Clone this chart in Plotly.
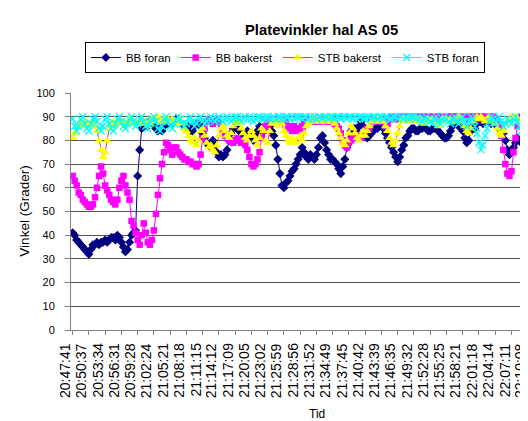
import plotly.graph_objects as go

# ---- data ----
tick_labels = ["20:47:41", "20:50:37", "20:53:34", "20:56:31", "20:59:28", "21:02:24",
               "21:05:21", "21:08:18", "21:11:15", "21:14:12", "21:17:09", "21:20:05",
               "21:23:02", "21:25:59", "21:28:56", "21:31:52", "21:34:49", "21:37:45",
               "21:40:42", "21:43:39", "21:46:35", "21:49:32", "21:52:28", "21:55:25",
               "21:58:21", "22:01:18", "22:04:14", "22:07:11", "22:10:08"]
samples_per_label = 8

bb_foran = [
    41, 40, 38, 37, 36, 35, 34, 33,
    32, 34, 36, 36, 37, 36, 37, 37,
    38, 37, 38, 39, 39, 38, 40, 39,
    37, 35, 33, 34, 37, 40, 41, 42,
    65, 76, 85, 86, 87, 86, 88, 87,
    86, 85, 84, 85, 84, 86, 88, 87,
    88, 87, 88, 89, 89, 88, 87, 86,
    85, 86, 84, 84, 86, 87, 87, 86,
    83, 81, 79, 78, 77, 80, 78, 75,
    73, 74, 73, 74, 76, 80, 83, 85,
    86, 85, 84, 82, 80, 82, 84, 83,
    81, 80, 82, 84, 86, 85, 84, 86,
    85, 86, 84, 82, 78, 72, 66, 61,
    60, 62, 63, 65, 67, 68, 70, 72,
    74, 77, 75, 73, 72, 74, 73, 72,
    74, 77, 81, 82, 79, 76, 74, 72,
    72, 71, 70, 68, 66, 69, 72, 77,
    80, 84, 85, 85, 84, 86, 88, 86,
    83, 81, 82, 83, 84, 85, 85, 86,
    86, 85, 83, 81, 79, 77, 75, 73,
    71, 73, 76, 78, 81, 82, 84, 85,
    85, 84, 84, 85, 85, 86, 85, 84,
    84, 85, 85, 85, 84, 83, 82, 81,
    81, 82, 84, 86, 87, 87, 86, 86,
    84, 81, 79, 80, 84, 86, 85, 87,
    88, 88, 87, 88, 89, 88, 87, 88,
    87, 86, 85, 84, 83, 80, 76, 74,
    75, 77, 79, 81, 80, 79, 78, 77,
    75, 76, 78, 81]

bb_bakerst = [
    65, 63, 61, 58, 57, 55, 54, 53,
    52, 52, 53, 56, 60, 65, 69, 66,
    61, 59, 57, 55, 54, 53, 55, 60,
    63, 65, 61, 58, 55, 46, 44, 41,
    38, 36, 40, 45, 41, 37, 36, 38,
    42, 49, 57, 64, 70, 75, 79, 78,
    76, 74, 77, 77, 75, 74, 73, 72,
    72, 71, 71, 70, 70, 69, 70, 74,
    81, 85, 88, 89, 88, 87, 88, 89,
    88, 87, 85, 82, 81, 80, 80, 79,
    80, 81, 80, 79, 80, 78, 76, 73,
    70, 69, 70, 72, 75, 81, 84, 86,
    87, 88, 89, 88, 89, 88, 89, 88,
    89, 88, 86, 85, 84, 86, 85, 84,
    85, 86, 87, 88, 88, 89, 88, 88,
    89, 88, 88, 89, 89, 88, 88, 89,
    88, 87, 86, 85, 83, 80, 78, 77,
    79, 80, 82, 81, 82, 82, 81, 83,
    84, 85, 85, 88, 89, 89, 88, 89,
    88, 89, 86, 87, 89, 90, 89, 89,
    89, 90, 89, 89, 90, 89, 90, 89,
    90, 89, 89, 90, 90, 89, 89, 90,
    89, 90, 89, 89, 90, 90, 89, 89,
    90, 89, 90, 90, 89, 90, 90, 89,
    90, 89, 89, 90, 90, 89, 90, 90,
    89, 90, 90, 89, 90, 89, 90, 90,
    89, 88, 86, 82, 76, 70, 66, 65,
    67, 75, 81, 86, 89, 90, 90, 89,
    90, 90, 89, 90]

stb_bakerst = [
    81, 83, 86, 87, 88, 86, 87, 88,
    87, 86, 88, 86, 84, 80, 76, 73,
    75, 80, 85, 87, 88, 86, 87, 88,
    87, 88, 86, 87, 89, 88, 87, 88,
    87, 88, 89, 87, 88, 86, 87, 89,
    88, 89, 90, 89, 88, 89, 88, 89,
    88, 89, 88, 87, 88, 89, 87, 85,
    84, 82, 80, 79, 81, 78, 80, 84,
    85, 82, 79, 77, 78, 76, 75, 78,
    82, 85, 86, 84, 82, 81, 83, 86,
    87, 88, 87, 85, 83, 81, 80, 82,
    84, 82, 80, 78, 81, 85, 84, 80,
    79, 84, 87, 88, 87, 86, 88, 87,
    84, 82, 80, 79, 81, 80, 79, 81,
    82, 80, 83, 86, 87, 88, 89, 88,
    89, 88, 89, 88, 89, 88, 89, 88,
    88, 87, 85, 83, 81, 79, 78, 80,
    83, 86, 85, 83, 81, 80, 82, 84,
    82, 84, 86, 88, 89, 88, 89, 88,
    89, 88, 86, 84, 81, 79, 78, 80,
    83, 86, 88, 89, 88, 89, 88, 89,
    88, 89, 88, 89, 88, 87, 88, 89,
    88, 89, 88, 87, 86, 88, 89, 88,
    89, 88, 89, 88, 89, 88, 90, 89,
    88, 86, 84, 83, 85, 88, 89, 90,
    89, 90, 89, 88, 89, 90, 89, 88,
    87, 85, 83, 82, 84, 87, 88, 89,
    90, 89, 90, 89, 88, 87, 84, 81,
    78, 74, 70, 69]

stb_foran = [
    89, 86, 84, 86, 89, 90, 87, 85,
    84, 87, 89, 90, 88, 85, 84, 86,
    89, 90, 87, 85, 84, 87, 89, 90,
    88, 86, 85, 87, 89, 90, 88, 86,
    87, 89, 90, 88, 86, 85, 87, 89,
    90, 88, 85, 84, 86, 89, 90, 88,
    86, 85, 87, 89, 90, 89, 87, 86,
    87, 89, 90, 88, 86, 87, 89, 90,
    88, 87, 88, 89, 90, 89, 88, 89,
    90, 89, 88, 89, 90, 89, 88, 89,
    90, 90, 89, 88, 89, 90, 89, 90,
    89, 88, 89, 90, 90, 89, 89, 90,
    90, 89, 89, 90, 89, 90, 90, 89,
    89, 90, 90, 89, 90, 89, 90, 90,
    90, 89, 90, 90, 89, 90, 89, 90,
    89, 90, 90, 89, 90, 90, 89, 90,
    90, 89, 90, 90, 89, 90, 90, 89,
    90, 90, 89, 90, 89, 90, 90, 89,
    89, 90, 90, 89, 90, 90, 89, 90,
    90, 89, 90, 90, 89, 89, 90, 90,
    89, 90, 90, 89, 90, 89, 90, 90,
    90, 89, 90, 89, 88, 89, 90, 89,
    88, 87, 89, 90, 88, 87, 89, 90,
    89, 88, 87, 89, 90, 88, 87, 89,
    90, 88, 86, 88, 90, 89, 86, 83,
    79, 76, 78, 82, 85, 88, 90, 89,
    87, 89, 90, 88, 86, 87, 89, 88,
    87, 89, 90, 88, 86, 84, 81, 78,
    80, 83, 86, 88]

series_names = ["BB foran", "BB bakerst", "STB bakerst", "STB foran"]

# ---- figure ----
x = list(range(len(bb_foran)))
tickvals = [k * samples_per_label for k in range(len(tick_labels))]

FONT = "Liberation Sans, Arial, sans-serif"

fig = go.Figure()
fig.add_trace(go.Scatter(x=x, y=bb_foran, name=series_names[0], mode="lines+markers",
                         line=dict(color="#000080", width=1),
                         marker=dict(symbol="diamond", size=7, color="#000080")))
fig.add_trace(go.Scatter(x=x, y=bb_bakerst, name=series_names[1], mode="lines+markers",
                         line=dict(color="#FF00FF", width=1),
                         marker=dict(symbol="square", size=6.5, color="#FF00FF")))
fig.add_trace(go.Scatter(x=x, y=stb_bakerst, name=series_names[2], mode="lines+markers",
                         line=dict(color="#FF0000", width=0.8),
                         marker=dict(symbol="triangle-up", size=8, color="#FFFF00")))
fig.add_trace(go.Scatter(x=x, y=stb_foran, name=series_names[3], mode="lines+markers",
                         line=dict(color="#00FFFF", width=1),
                         marker=dict(symbol="x-thin", size=7,
                                     line=dict(color="#00FFFF", width=1.3), color="#00FFFF")))

annotations = [
    dict(text="<b>Platevinkler hal AS 05</b>", x=0.539, y=1.266, xref="paper", yref="paper",
         xanchor="center", yanchor="middle", showarrow=False,
         font=dict(family=FONT, size=14.8, color="black")),
    dict(text="Vinkel (Grader)", x=-0.101, y=0.5, xref="paper", yref="paper",
         xanchor="center", yanchor="middle", textangle=-90, showarrow=False,
         font=dict(family=FONT, size=13.5, color="black")),
    dict(text="Tid", x=0.530, y=-0.355, xref="paper", yref="paper",
         xanchor="center", yanchor="middle", showarrow=False,
         font=dict(family=FONT, size=12, color="black")),
]
for tv, lab in zip(tickvals, tick_labels):
    annotations.append(dict(text=lab, x=tv, y=-0.046, xref="x", yref="paper",
                            xanchor="center", yanchor="top", textangle=-90,
                            xshift=-7, showarrow=False,
                            font=dict(family=FONT, size=14, color="black")))

fig.update_layout(
    width=528, height=421,
    margin=dict(l=63, r=1, t=85, b=99),
    paper_bgcolor="white", plot_bgcolor="white",
    font=dict(family=FONT, size=11, color="black"),
    showlegend=True,
    legend=dict(orientation="h", x=0.030, y=1.215, xanchor="left", yanchor="top",
                bordercolor="black", borderwidth=1, bgcolor="white",
                font=dict(family=FONT, size=11.5, color="black"),
                itemwidth=30, tracegroupgap=0),
    xaxis=dict(range=[-0.8, 227.6], tickmode="array", tickvals=tickvals,
               showticklabels=False,
               ticks="outside", ticklen=4, tickcolor="#808080",
               showgrid=False, zeroline=False, showline=True, linecolor="#808080", linewidth=1),
    yaxis=dict(range=[0, 100], tickmode="linear", tick0=0, dtick=10,
               tickfont=dict(family=FONT, size=11, color="black"),
               ticks="outside", ticklen=5, tickcolor="#808080", ticklabelstandoff=8,
               showgrid=True, gridcolor="#555555", gridwidth=1,
               zeroline=False, showline=True, linecolor="#808080", linewidth=1),
    annotations=annotations,
)

fig.write_html("out.html")
